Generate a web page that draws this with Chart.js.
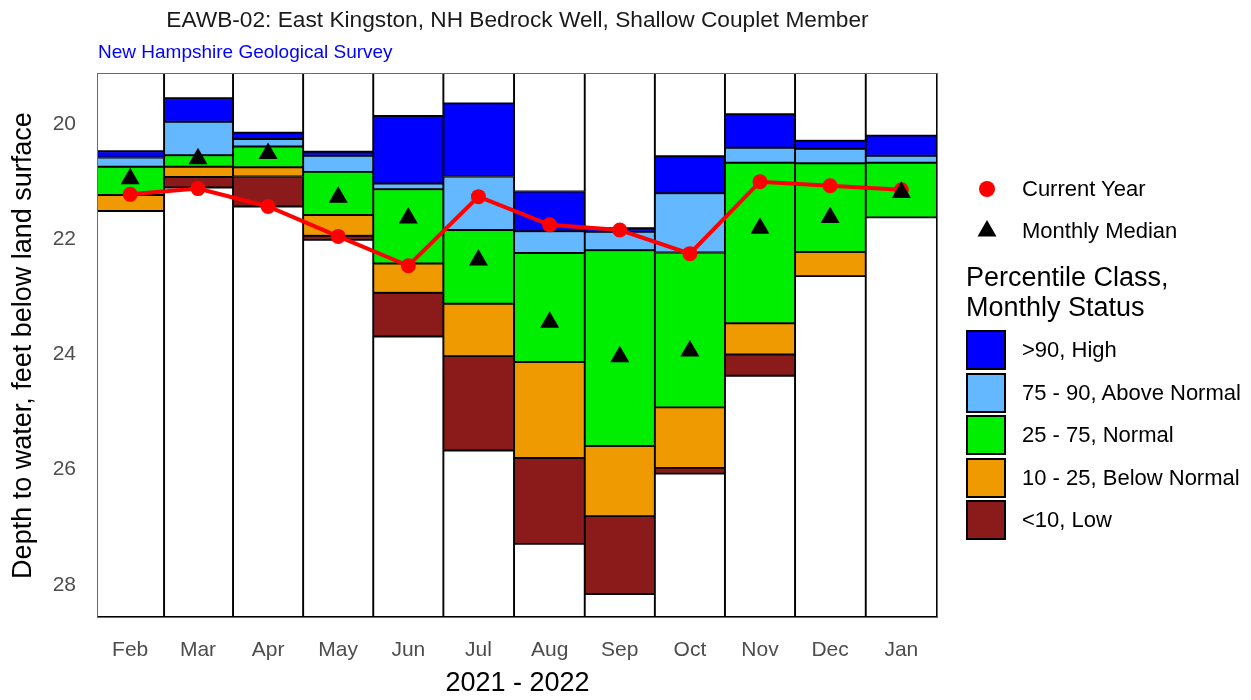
<!DOCTYPE html>
<html>
<head>
<meta charset="utf-8">
<script src="https://cdn.jsdelivr.net/npm/chart.js@4.4.1/dist/chart.umd.min.js"></script>
<style>
html, body { margin: 0; padding: 0; background: #ffffff; }
#wrap { position: relative; width: 1251px; height: 700px; font-family: "Liberation Sans", Arial, sans-serif; overflow: hidden; }
#c { position: absolute; left: 0; top: 0; }
.t { position: absolute; white-space: nowrap; color: #000; }
.sw { position: absolute; left: 966px; width: 40px; height: 40px; box-sizing: border-box; border: 2px solid #000; }
.lg { position: absolute; left: 1022px; font-size: 22px; line-height: 24px; white-space: nowrap; color: #000; }
</style>
</head>
<body>
<div id="wrap">
  <canvas id="c" width="1251" height="700"></canvas>
  <div class="t" id="title" style="left:0;width:1035px;text-align:center;top:6px;font-size:22.7px;line-height:26px;color:#1a1a1a;">EAWB-02: East Kingston, NH Bedrock Well, Shallow Couplet Member</div>
  <div class="t" id="subtitle" style="left:98px;top:41px;font-size:19px;line-height:21px;color:#0000FF;">New Hampshire Geological Survey</div>

  <div style="position:absolute;left:979px;top:181px;width:16px;height:16px;border-radius:50%;background:#FF0000;"></div>
  <svg style="position:absolute;left:970px;top:214px;" width="34" height="30"><polygon points="17,6 7.5,22.5 26.5,22.5" fill="#000"/></svg>
  <div class="lg" style="top:177px;">Current Year</div>
  <div class="lg" style="top:219px;">Monthly Median</div>

  <div class="t" style="left:966px;top:263px;font-size:27px;line-height:29.5px;">Percentile Class,<br>Monthly Status</div>

  <div id="legendKeys"></div>
</div>
<script>
// ---------------- data ----------------
const months = ['Feb', 'Mar', 'Apr', 'May', 'Jun', 'Jul', 'Aug', 'Sep', 'Oct', 'Nov', 'Dec', 'Jan'];
const monthDays = [28, 31, 30, 31, 30, 31, 31, 30, 31, 30, 31, 31]; // Feb 2021 .. Jan 2022

// percentile boundaries, depth to water (ft below land surface)
const pHigh = [20.47, 19.55, 20.15, 20.48, 19.86, 19.64, 21.17, 21.81, 20.56, 19.83, 20.29, 20.20];
const p90   = [20.58, 19.96, 20.26, 20.55, 21.03, 20.91, 21.86, 21.87, 21.20, 20.41, 20.43, 20.55];
const p75   = [20.74, 20.54, 20.39, 20.83, 21.13, 21.84, 22.24, 22.19, 22.23, 20.67, 20.68, 20.67];
const p25   = [21.23, 20.74, 20.75, 21.58, 22.42, 23.12, 24.13, 25.59, 24.92, 23.46, 22.22, 21.62];
const p10   = [21.51, 20.92, 20.91, 21.94, 22.93, 24.03, 25.80, 26.81, 25.97, 24.00, 22.64, 21.62];
const pLow  = [21.51, 21.10, 21.43, 22.01, 23.69, 25.67, 27.29, 28.16, 26.07, 24.37, 22.64, 21.62];

const medianDepth  = [20.95, 20.60, 20.51, 21.27, 21.63, 22.36, 23.44, 24.04, 23.94, 21.81, 21.62, 21.19];
const currentDepth = [21.22, 21.12, 21.43, 21.95, 22.46, 21.26, 21.75, 21.84, 22.25, 21.00, 21.07, 21.14];

const yTickValues = [20, 22, 24, 26, 28];

const classLabels = ['>90, High', '75 - 90, Above Normal', '25 - 75, Normal', '10 - 25, Below Normal', '<10, Low'];
const classColors = ['#0000FF', '#63B8FF', '#00EE00', '#EE9A00', '#8B1A1A'];

// ---------------- layout constants ----------------
const Y_MIN = 19.13, Y_MAX = 28.56;
const FONT = '"Liberation Sans", Arial, sans-serif';

// month centre positions (days since 1 Feb 2021) from calendar month lengths
const monthStart = [];
let acc = 0;
for (const d of monthDays) { monthStart.push(acc); acc += d; }
const totalDays = acc;
const monthCenter = monthStart.map((s, i) => s + monthDays[i] / 2);

function band(a, b) { return a === b ? null : [a, b]; }
function bandData(top, bottom) {
  return months.map((m, i) => ({ x: monthCenter[i], y: band(top[i], bottom[i]) }));
}

const bounds = [pHigh, p90, p75, p25, p10, pLow];
const barCommon = {
  type: 'bar', borderColor: '#000000', borderWidth: 1.3, borderSkipped: false,
  barPercentage: 1, categoryPercentage: 1, barThickness: 'flex', grouped: true, clip: 0, order: 3
};

const datasets = [];
datasets.push({
  type: 'line', label: 'Monthly Median',
  data: months.map((m, i) => ({ x: monthCenter[i], y: medianDepth[i] })),
  showLine: false, pointStyle: 'triangle', pointRadius: 11, pointHoverRadius: 11,
  pointBackgroundColor: '#000', pointBorderColor: '#000', pointBorderWidth: 0, order: 0
});
datasets.push({
  type: 'line', label: 'Current Year',
  data: months.map((m, i) => ({ x: monthCenter[i], y: currentDepth[i] })),
  borderColor: '#FF0000', borderWidth: 4, tension: 0,
  pointRadius: 7.5, pointHoverRadius: 7.5, pointBackgroundColor: '#FF0000', pointBorderWidth: 0, order: 1
});
// white area above and below the percentile bars
datasets.push(Object.assign({}, barCommon, {
  label: 'above', backgroundColor: '#FFFFFF',
  data: months.map((m, i) => ({ x: monthCenter[i], y: [Y_MIN - 1, pHigh[i]] }))
}));
datasets.push(Object.assign({}, barCommon, {
  label: 'below', backgroundColor: '#FFFFFF',
  data: months.map((m, i) => ({ x: monthCenter[i], y: [pLow[i], Y_MAX] }))
}));
for (let k = 0; k < 5; k++) {
  datasets.push(Object.assign({}, barCommon, {
    label: classLabels[k], backgroundColor: classColors[k],
    data: bandData(bounds[k], bounds[k + 1])
  }));
}

// HTML legend keys
const keyHost = document.getElementById('legendKeys');
classLabels.forEach((lab, k) => {
  const top = 330 + k * 42.5;
  const sw = document.createElement('div');
  sw.className = 'sw'; sw.style.top = top + 'px'; sw.style.background = classColors[k];
  keyHost.appendChild(sw);
  const tx = document.createElement('div');
  tx.className = 'lg'; tx.style.top = (top + 8) + 'px'; tx.textContent = lab;
  keyHost.appendChild(tx);
});

const panelBorder = {
  id: 'panelBorder',
  afterDraw(chart) {
    const a = chart.chartArea, ctx = chart.ctx;
    ctx.save();
    ctx.strokeStyle = '#6b6b6b';
    ctx.lineWidth = 1;
    ctx.strokeRect(a.left - 0.5, a.top - 0.5, a.right - a.left + 1, a.bottom - a.top + 1);
    ctx.restore();
  }
};

Chart.defaults.font.family = FONT;

new Chart(document.getElementById('c'), {
  type: 'bar',
  data: { datasets },
  options: {
    responsive: false,
    animation: false,
    events: [],
    layout: { padding: { left: 0, top: 74, right: 314, bottom: 0 } },
    plugins: { legend: { display: false }, tooltip: { enabled: false }, title: { display: false } },
    scales: {
      x: {
        type: 'linear', min: 0, max: totalDays, stacked: true, offset: false,
        grid: { display: false, drawTicks: false }, border: { display: false },
        afterBuildTicks: s => { s.ticks = monthCenter.map(v => ({ value: v })); },
        ticks: {
          autoSkip: false, maxRotation: 0, minRotation: 0, padding: 21,
          color: '#4D4D4D', font: { size: 21 },
          callback: (v, i) => months[i]
        },
        title: { display: true, text: '2021 - 2022', color: '#000', font: { size: 27 }, padding: { top: 0, bottom: 0 } },
        afterFit: s => { s.height = 83; }
      },
      y: {
        type: 'linear', reverse: true, min: Y_MIN, max: Y_MAX, stacked: false,
        grid: { display: false, drawTicks: false }, border: { display: false },
        afterBuildTicks: s => { s.ticks = yTickValues.map(v => ({ value: v })); },
        ticks: { padding: 22, color: '#4D4D4D', font: { size: 21 }, callback: v => String(v) },
        title: { display: true, text: 'Depth to water, feet below land surface', color: '#000', font: { size: 27 }, padding: { top: 7, bottom: 0 } },
        afterFit: s => { s.width = 98; }
      }
    }
  },
  plugins: [panelBorder]
});
</script>
</body>
</html>
